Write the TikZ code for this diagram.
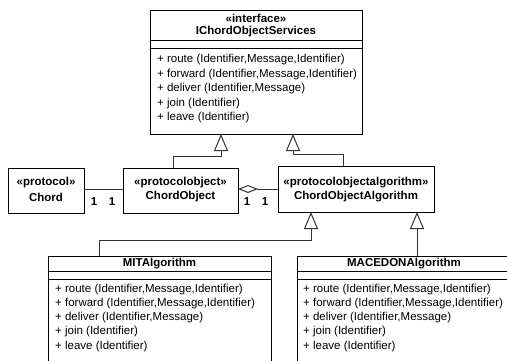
\documentclass[tikz,border=0pt]{standalone}
\usepackage{fontspec}
\setmainfont{Liberation Sans}
\usetikzlibrary{arrows.meta}

\tikzset{
  umlbox/.style={draw=black, line width=1pt, fill=white, inner sep=0pt, outer sep=0pt, anchor=north west},
  optext/.style={anchor=west, inner sep=0pt, font=\fontsize{11.5}{14}\selectfont},
  hdrtext/.style={anchor=center, inner sep=0pt, font=\fontsize{11.5}{14}\selectfont\bfseries},
  multext/.style={anchor=center, inner sep=0pt, font=\fontsize{11.5}{14}\selectfont\bfseries},
  connline/.style={draw=black!80, line width=1pt},
  genarrow/.style={connline, -{Triangle[open, length=17pt, width=14pt, line width=1pt]}},
  aggarrow/.style={connline, -{Diamond[open, length=20pt, width=8pt, line width=1pt]}},
  compline/.style={draw=black, line width=1pt}
}

\begin{document}
\begin{tikzpicture}[x=1pt, y=-1pt]
\useasboundingbox (0,0) rectangle (507,360);
\fill[white] (0,0) rectangle (507,360);
\clip (0,0) rectangle (507,360);

% ---- interface IChordObjectServices ----
\node[umlbox, minimum width=212pt, minimum height=124pt] (ics) at (150,10) {};
\draw[compline] ([yshift=-30pt]ics.north west) -- ([yshift=-30pt]ics.north east);
\draw[compline] ([yshift=-38pt]ics.north west) -- ([yshift=-38pt]ics.north east);
\node[hdrtext] (ics-st) at ([yshift=-8pt]ics.north) {«interface»};
\node[hdrtext] (ics-nm) at ([yshift=-22pt]ics.north) {IChordObjectServices};
\node[optext] (ics-o1) at (157,60)    {+ route (Identifier,Message,Identifier)};
\node[optext] (ics-o2) at (157,74.5)  {+ forward (Identifier,Message,Identifier)};
\node[optext] (ics-o3) at (157,89)    {+ deliver (Identifier,Message)};
\node[optext] (ics-o4) at (157,103.5) {+ join (Identifier)};
\node[optext] (ics-o5) at (157,118)   {+ leave (Identifier)};

% ---- protocol Chord ----
\node[umlbox, minimum width=76pt, minimum height=45pt] (chord) at (8,168) {};
\node[hdrtext] (chord-st) at ([yshift=-15pt]chord.north) {«protocol»};
\node[hdrtext] (chord-nm) at ([yshift=-29pt]chord.north) {Chord};

% ---- protocolobject ChordObject ----
\node[umlbox, minimum width=115pt, minimum height=45pt] (cobj) at (123,168) {};
\node[hdrtext] (cobj-st) at ([yshift=-15pt]cobj.north) {«protocolobject»};
\node[hdrtext] (cobj-nm) at ([yshift=-29pt]cobj.north) {ChordObject};

% ---- protocolobjectalgorithm ChordObjectAlgorithm ----
\node[umlbox, minimum width=156pt, minimum height=46pt] (coalg) at (278,166) {};
\node[hdrtext] (coalg-st) at ([yshift=-17pt]coalg.north) {«protocolobjectalgorithm»};
\node[hdrtext] (coalg-nm) at ([yshift=-31pt]coalg.north) {ChordObjectAlgorithm};

% ---- MITAlgorithm ----
\node[umlbox, minimum width=223pt, minimum height=120pt] (mit) at (48,256) {};
\draw[compline] ([yshift=-15pt]mit.north west) -- ([yshift=-15pt]mit.north east);
\draw[compline] ([yshift=-23pt]mit.north west) -- ([yshift=-23pt]mit.north east);
\node[hdrtext] (mit-nm) at ([yshift=-7.5pt]mit.north) {MITAlgorithm};
\node[optext] (mit-o1) at (55,290) {+ route (Identifier,Message,Identifier)};
\node[optext] (mit-o2) at (55,304) {+ forward (Identifier,Message,Identifier)};
\node[optext] (mit-o3) at (55,318) {+ deliver (Identifier,Message)};
\node[optext] (mit-o4) at (55,332) {+ join (Identifier)};
\node[optext] (mit-o5) at (55,346.5) {+ leave (Identifier)};

% ---- MACEDONAlgorithm ----
\node[umlbox, minimum width=214pt, minimum height=120pt] (mac) at (297,256) {};
\draw[compline] ([yshift=-15pt]mac.north west) -- ([yshift=-15pt]mac.north east);
\draw[compline] ([yshift=-23pt]mac.north west) -- ([yshift=-23pt]mac.north east);
\node[hdrtext] (mac-nm) at ([yshift=-7.5pt]mac.north) {MACEDONAlgorithm};
\node[optext] (mac-o1) at (303,290) {+ route (Identifier,Message,Identifier)};
\node[optext] (mac-o2) at (303,304) {+ forward (Identifier,Message,Identifier)};
\node[optext] (mac-o3) at (303,318) {+ deliver (Identifier,Message)};
\node[optext] (mac-o4) at (303,332) {+ join (Identifier)};
\node[optext] (mac-o5) at (303,346.5) {+ leave (Identifier)};

% ---- association Chord -- ChordObject ----
\draw[connline] (chord.east |- 0,189) -- (cobj.west |- 0,189);
\node[multext] (m1) at (94,202) {1};
\node[multext] (m2) at (112,202) {1};

% ---- aggregation ChordObjectAlgorithm <>-- ChordObject ----
\draw[aggarrow] (coalg.west |- 0,189) -- (cobj.east |- 0,189);
\node[multext] (m3) at (247,202) {1};
\node[multext] (m4) at (265,202) {1};

% ---- generalizations ----
\draw[genarrow] (cobj.north -| 173,0) |- (221,156) -- (ics.south -| 221,0);
\draw[genarrow] (coalg.north -| 343,0) |- (293,154) -- (ics.south -| 293,0);
\draw[genarrow] (mit.north -| 99,0) |- (311,240) -- (coalg.south -| 311,0);
\draw[genarrow] (mac.north -| 417,0) -- (coalg.south -| 417,0);
\end{tikzpicture}
\end{document}
